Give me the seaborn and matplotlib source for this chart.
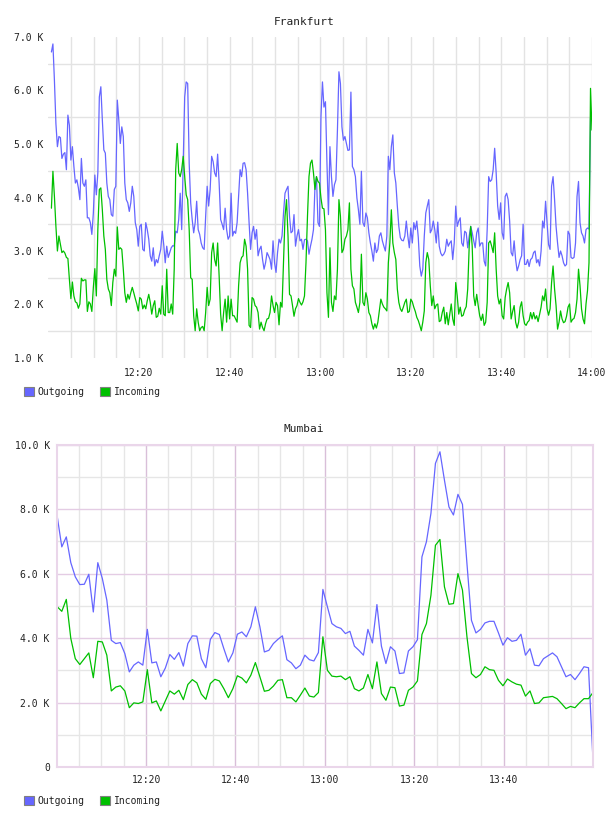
import matplotlib
matplotlib.use("Agg")
import matplotlib.pyplot as plt
from matplotlib.patches import Patch
import numpy as np
import pandas as pd
import seaborn as sns

# Frankfurt: one sample about every 20 s, values in thousands
fra_out = [
    6.72, 6.87, 6.19, 5.38, 4.95, 5.14, 5.12, 4.73, 4.81, 4.84,
    4.52, 5.54, 5.35, 4.70, 4.95, 4.58, 4.27, 4.33, 4.18, 3.96,
    4.73, 4.27, 4.21, 4.33, 3.62, 3.62, 3.53, 3.31, 3.71, 4.42,
    4.05, 4.46, 5.88, 6.07, 5.45, 4.89, 4.83, 4.27, 4.02, 3.96,
    3.68, 3.65, 4.15, 4.21, 5.82, 5.45, 5.01, 5.32, 5.14, 4.27,
    3.96, 3.90, 3.74, 3.90, 4.21, 4.02, 3.53, 3.40, 3.09, 3.46,
    3.50, 3.03, 3.00, 3.53, 3.40, 3.22, 2.91, 2.81, 3.06, 2.72,
    2.84, 2.78, 2.91, 3.03, 3.37, 3.12, 2.78, 3.09, 2.88, 2.97,
    3.06, 3.10, 3.09, 3.37, 3.34, 3.59, 4.08, 3.40, 4.64, 5.88,
    6.16, 6.13, 4.64, 3.90, 3.59, 3.34, 3.53, 3.93, 3.40, 3.31,
    3.15, 3.06, 3.03, 3.65, 4.21, 3.84, 4.15, 4.77, 4.67, 4.46,
    4.39, 4.81, 4.27, 3.59, 3.50, 3.40, 3.80, 3.40, 3.22,
    3.28, 4.08, 3.28, 3.37, 3.33, 3.53, 4.02, 4.52, 4.39, 4.64,
    4.65, 4.52, 4.08, 3.53, 3.03, 3.34, 3.46, 3.22, 3.40, 2.91,
    3.03, 3.09, 2.84, 2.66, 2.78, 2.97, 2.91, 2.84, 2.66, 3.19,
    2.78, 2.60, 2.97, 3.22, 3.15, 3.28, 3.71, 4.08, 4.15, 4.21,
    3.65, 3.34, 3.37, 3.68, 3.09, 3.28, 3.40, 3.19, 3.22, 3.03,
    3.21, 3.22, 3.19, 2.94, 3.09, 3.22, 3.40, 4.21, 4.39, 3.53,
    3.46,
    5.51, 6.16, 5.69, 5.79, 4.64, 3.68, 4.95, 4.39, 4.02, 4.24,
    4.33, 5.26, 6.35, 6.13, 5.32, 5.07, 5.14, 5.01, 4.88, 4.89,
    5.97, 4.58, 4.52, 4.39, 3.99, 3.77, 3.50, 4.49, 3.53, 3.46,
    3.71, 3.62, 3.34, 3.15, 3.00, 2.81, 3.15, 2.97, 3.03, 3.28,
    3.34, 3.19, 3.09, 3.00, 3.28, 4.77, 4.52, 4.95, 5.17, 4.46,
    4.27, 3.84, 3.46, 3.25, 3.20, 3.19, 3.28, 3.56, 3.28, 3.06,
    3.43, 3.15, 3.53, 3.40, 3.56, 3.25, 2.72, 2.53, 2.66, 3.28,
    3.71, 3.84, 3.96, 3.34, 3.40, 3.56, 3.40, 3.15, 3.54, 3.09,
    2.96, 2.91, 2.94, 3.00, 3.22, 3.09, 3.15, 3.19, 2.84, 3.15,
    3.84, 3.46, 3.56, 3.62, 3.15, 3.09, 3.37, 3.34, 3.06, 3.28,
    3.46, 3.34, 3.19, 3.06, 3.34, 3.43, 3.09, 3.15, 3.15, 2.81,
    2.72, 3.40, 4.39, 4.30, 4.33, 4.52, 4.92, 4.46, 3.84, 3.59,
    3.90, 3.34, 3.22, 4.02, 4.08, 3.96, 3.56, 2.97, 2.91, 3.19,
    2.84, 2.63, 2.72, 2.84, 2.91, 3.50, 2.75, 2.75, 2.84, 2.71,
    2.84, 2.87, 2.97, 3.00, 2.78, 2.84, 2.72, 3.00, 3.56, 3.43,
    3.93, 3.53, 3.12, 3.03, 4.21, 4.39, 3.96, 3.46, 3.15, 2.88,
    3.00, 2.91, 2.78, 2.72, 2.75, 3.37, 3.31, 2.88, 2.86, 2.88,
    3.15, 4.02, 4.30, 3.53, 3.34, 3.28, 3.15, 3.40, 3.43, 3.41,
    5.48, 5.45,
]
fra_in = [
    3.80, 4.49, 4.02, 3.46, 3.00, 3.28, 3.12, 2.97, 3.00, 2.96,
    2.88, 2.86, 2.47, 2.11, 2.42, 2.16, 2.05, 2.03, 1.93, 2.01,
    2.49, 2.44, 2.46, 2.46, 1.87, 2.05, 2.01, 1.87, 2.32, 2.67,
    2.16, 3.40, 4.15, 4.18, 3.77, 3.28, 3.03, 2.47, 2.29, 2.22,
    1.98, 2.41, 2.66, 2.53, 3.45, 3.03, 3.06, 3.03, 2.66, 2.22,
    2.04, 2.19, 2.10, 2.22, 2.32, 2.22, 2.11, 2.01, 1.88, 2.13,
    2.10, 1.92, 1.99, 1.92, 2.07, 2.19, 2.04, 1.82, 1.98, 2.07,
    1.76, 1.78, 1.93, 1.82, 2.35, 1.82, 1.79, 2.66, 1.85, 1.85,
    2.01, 1.82, 2.66, 4.52, 5.01, 4.46, 4.39, 4.52, 4.77, 4.39,
    4.05, 3.96, 3.40, 2.50, 2.47, 1.79, 1.51, 1.92, 1.67, 1.51,
    1.57, 1.59, 1.51, 1.85, 2.32, 1.98, 2.10, 2.97, 3.15, 2.84,
    2.72, 3.15, 2.53, 1.82, 1.51, 1.85, 2.10, 1.67, 2.16,
    1.73, 2.10, 1.79, 1.79, 1.73, 1.67, 2.35, 2.78, 2.88, 2.91,
    3.22, 3.09, 2.66, 1.61, 1.57, 2.13, 2.10, 1.98, 1.95, 1.85,
    1.54, 1.67, 1.57, 1.51, 1.64, 1.73, 1.74, 1.85, 2.16, 1.98,
    1.85, 2.04, 1.98, 1.62, 2.04, 1.95, 2.78, 3.65, 3.96, 3.28,
    2.19, 2.16, 1.98, 1.78, 1.92, 1.98, 2.11, 2.04, 1.99, 2.05,
    2.16, 2.78, 3.65, 4.39, 4.64, 4.70, 4.46, 4.15, 4.39, 4.30,
    4.27,
    3.99, 3.80, 3.79, 3.40, 2.22, 1.76, 3.06, 2.04, 1.87, 2.16,
    2.09, 2.66, 3.96, 3.65, 2.97, 3.03, 3.22, 3.28, 3.40, 3.90,
    2.66, 2.35, 2.29, 2.04, 1.95, 1.85, 2.04, 2.94, 2.04, 1.98,
    2.22, 2.10, 1.85, 1.79, 1.64, 1.54, 1.64, 1.56, 1.67, 1.88,
    2.10, 2.01, 1.95, 1.92, 1.88, 2.78, 3.15, 3.77, 3.15, 2.97,
    2.84, 2.29, 2.04, 1.92, 1.87, 1.95, 2.04, 2.10, 1.85, 1.87,
    2.10, 2.05, 1.95, 1.87, 1.76, 1.70, 1.61, 1.51, 1.67, 1.88,
    2.78, 2.97, 2.84, 2.35, 1.98, 2.16, 1.92, 1.99, 2.01, 1.68,
    1.70, 1.85, 1.95, 1.64, 1.85, 1.62, 1.82, 2.01, 1.73, 1.61,
    2.41, 2.16, 1.82, 1.95, 1.78, 1.80, 1.90, 1.96, 2.29, 3.09,
    3.46, 3.09, 2.16, 1.98, 2.19, 1.98, 1.79, 1.70, 1.82, 1.61,
    1.67, 2.04, 3.15, 3.19, 3.09, 2.97, 3.34, 2.66, 2.16, 2.01,
    2.10, 1.79, 1.73, 2.13, 2.29, 2.41, 2.22, 1.73, 1.87, 1.98,
    1.67, 1.56, 1.67, 1.95, 2.05, 1.79, 1.64, 1.61, 1.67, 1.70,
    1.85, 1.73, 1.85, 1.73, 1.79, 1.68, 1.82, 1.95, 2.16, 2.07,
    2.29, 1.92, 1.80, 1.92, 2.41, 2.72, 2.29, 1.98, 1.54, 1.67,
    1.88, 1.73, 1.66, 1.68, 1.78, 1.95, 2.01, 1.67, 1.72, 1.74,
    1.85, 2.10, 2.66, 2.35, 1.92, 1.73, 1.64, 2.01, 2.26, 2.78,
    6.04, 5.26,
]

# Mumbai: one sample per minute, values in thousands
mum_out = [
    7.76, 6.83, 7.14, 6.34, 5.90, 5.66, 5.67, 5.98, 4.81, 6.34,
    5.85, 5.18, 3.93, 3.83, 3.86, 3.52, 2.95, 3.16, 3.26, 3.16,
    4.27, 3.23, 3.26, 2.80, 3.07, 3.49, 3.34, 3.55, 3.13, 3.83,
    4.07, 4.06, 3.36, 3.08, 3.96, 4.17, 4.11, 3.67, 3.26, 3.54,
    4.12, 4.19, 4.04, 4.35, 4.97, 4.35, 3.57, 3.62, 3.83, 3.96,
    4.07, 3.33, 3.23, 3.05, 3.16, 3.47, 3.33, 3.29, 3.55, 5.51,
    4.97, 4.45, 4.35, 4.30, 4.14, 4.21, 3.75, 3.62, 3.47, 4.27,
    3.85, 5.04, 3.75, 3.21, 3.73, 3.60, 2.90, 2.92, 3.60, 3.73,
    3.95, 6.52, 6.99, 7.87, 9.42, 9.78, 8.90, 8.07, 7.82, 8.46,
    8.15, 6.31, 4.55, 4.16, 4.27, 4.47, 4.52, 4.52, 4.16, 3.78,
    4.01, 3.90, 3.93, 4.12, 3.47, 3.67, 3.16, 3.14, 3.36, 3.45,
    3.54, 3.42, 3.11, 2.80, 2.87, 2.71, 2.90, 3.11, 3.08, 0.21,
]
mum_in = [
    4.97, 4.83, 5.20, 3.99, 3.36, 3.18, 3.36, 3.54, 2.77, 3.90,
    3.88, 3.47, 2.36, 2.48, 2.52, 2.36, 1.84, 1.99, 1.97, 2.02,
    3.02, 1.99, 2.05, 1.74, 2.05, 2.36, 2.26, 2.38, 2.09, 2.56,
    2.71, 2.61, 2.26, 2.10, 2.59, 2.72, 2.67, 2.43, 2.15, 2.43,
    2.83, 2.76, 2.61, 2.85, 3.24, 2.80, 2.35, 2.38, 2.51, 2.69,
    2.71, 2.15, 2.15, 2.02, 2.23, 2.45, 2.20, 2.17, 2.31, 4.04,
    3.00, 2.82, 2.80, 2.82, 2.71, 2.80, 2.43, 2.36, 2.45, 2.87,
    2.43, 3.26, 2.28, 2.07, 2.48, 2.46, 1.89, 1.92, 2.38, 2.48,
    2.67, 4.11, 4.45, 5.33, 6.88, 7.06, 5.59, 5.05, 5.07, 6.00,
    5.49, 4.04, 2.90, 2.77, 2.87, 3.11, 3.02, 3.00, 2.69, 2.52,
    2.73, 2.64, 2.57, 2.54, 2.20, 2.36, 1.97, 1.99, 2.15, 2.17,
    2.19, 2.12, 1.97, 1.81, 1.88, 1.84, 1.99, 2.12, 2.12, 2.31,
]

series_names = ["Outgoing", "Incoming"]
fra_xticks = ["12:20", "12:40", "13:00", "13:20", "13:40", "14:00"]
mum_xticks = ["12:20", "12:40", "13:00", "13:20", "13:40"]
fra_yticks = [1.0, 2.0, 3.0, 4.0, 5.0, 6.0, 7.0]
mum_yticks = [0, 2, 4, 6, 8, 10]

palette = {"Outgoing": "#6666ff", "Incoming": "#00c000"}
day = "2024-01-01 "
t_start = pd.Timestamp(day + "12:00")
t_end = pd.Timestamp(day + "14:00")

sns.set_theme(style="white")
plt.rcParams["font.family"] = ["DejaVu Sans Mono", "DejaVu Sans"]
text_color = "#222222"

fig = plt.figure(figsize=(6.08, 8.16), dpi=100)
ax1 = fig.add_axes([48.4 / 608, 1 - 358 / 816, (592 - 48.4) / 608, 321 / 816])
ax2 = fig.add_axes([56.7 / 608, 1 - 767 / 816, (593 - 56.7) / 608, 322.3 / 816])


def draw_lines(ax, times, out, inc):
    df = pd.DataFrame({"time": times, "Outgoing": out, "Incoming": inc})
    df = df.melt("time", var_name="direction", value_name="value")
    sns.lineplot(data=df, x="time", y="value", hue="direction",
                 hue_order=series_names, palette=palette, estimator=None,
                 linewidth=0.9, legend=False, ax=ax)
    ax.set_xlabel("")
    ax.set_ylabel("")
    ax.set_xlim(t_start, t_end)
    ax.set_axisbelow(True)


fra_time = pd.date_range(day + "12:00:40", day + "14:00:00", periods=len(fra_out))
mum_time = pd.date_range(day + "12:00:08", day + "14:00:00", periods=len(mum_out))

# --- Frankfurt ---
draw_lines(ax1, fra_time, fra_out, fra_in)
ax1.set_ylim(1.0, 7.0)
ax1.set_xticks([pd.Timestamp(day + s) for s in fra_xticks])
ax1.set_xticklabels(fra_xticks)
ax1.set_xticks(pd.date_range(day + "12:05", day + "14:00", freq="5min"), minor=True)
ax1.xaxis.remove_overlapping_locs = False
ax1.set_yticks(fra_yticks)
ax1.set_yticklabels([f"{v:.1f} K" for v in fra_yticks])
ax1.set_yticks(np.arange(1.5, 7.0, 1.0), minor=True)
ax1.grid(False)
ax1.grid(True, which="minor", color="#e3e3e3", linewidth=1.0)
for s in ax1.spines.values():
    s.set_visible(False)
ax1.tick_params(axis="x", which="both", length=0, pad=7, labelsize=7, labelcolor=text_color)
ax1.tick_params(axis="y", which="both", length=0, pad=3.5, labelsize=7, labelcolor=text_color)

# --- Mumbai ---
draw_lines(ax2, mum_time, mum_out, mum_in)
ax2.set_ylim(0, 10)
mum_major = [pd.Timestamp(day + s) for s in mum_xticks]
mum_minor = [t for t in pd.date_range(day + "12:05", day + "13:55", freq="5min")
             if t not in mum_major]
ax2.set_xticks(mum_major)
ax2.set_xticklabels(mum_xticks)
ax2.set_xticks(mum_minor, minor=True)
ax2.set_yticks(mum_yticks)
ax2.set_yticklabels(["0" if v == 0 else f"{v:.1f} K" for v in mum_yticks])
ax2.set_yticks([1, 3, 5, 7, 9], minor=True)
ax2.grid(False)
ax2.grid(True, which="minor", color="#e6e6e6", linewidth=1.0)
ax2.grid(True, which="major", axis="y", color="#e4cce4", linewidth=1.0)
ax2.grid(True, which="major", axis="x", color="#d9bfd9", linewidth=1.0)
for s in ax2.spines.values():
    s.set_visible(True)
    s.set_color("#ead6ea")
    s.set_linewidth(1.5)
ax2.tick_params(axis="x", which="both", length=0, pad=6, labelsize=7, labelcolor=text_color)
ax2.tick_params(axis="y", which="both", length=0, pad=5, labelsize=7, labelcolor=text_color)

# titles centred on the figure
fig.text(0.5, 1 - 22 / 816, "Frankfurt", ha="center", va="center", fontsize=8, color=text_color)
fig.text(0.5, 1 - 429 / 816, "Mumbai", ha="center", va="center", fontsize=8, color=text_color)

# legends below each panel
handles = [Patch(facecolor=palette[n], edgecolor="#808080", linewidth=0.8, label=n)
           for n in series_names]
for ypix in (392, 800.5):
    fig.legend(handles=handles, loc="center left",
               bbox_to_anchor=(24 / 608, 1 - ypix / 816), ncol=2, frameon=False,
               fontsize=7, handlelength=1.0, handleheight=1.0, handletextpad=0.4,
               columnspacing=1.6, borderaxespad=0, borderpad=0, labelcolor=text_color)

fig.savefig("out.png", dpi=100)
